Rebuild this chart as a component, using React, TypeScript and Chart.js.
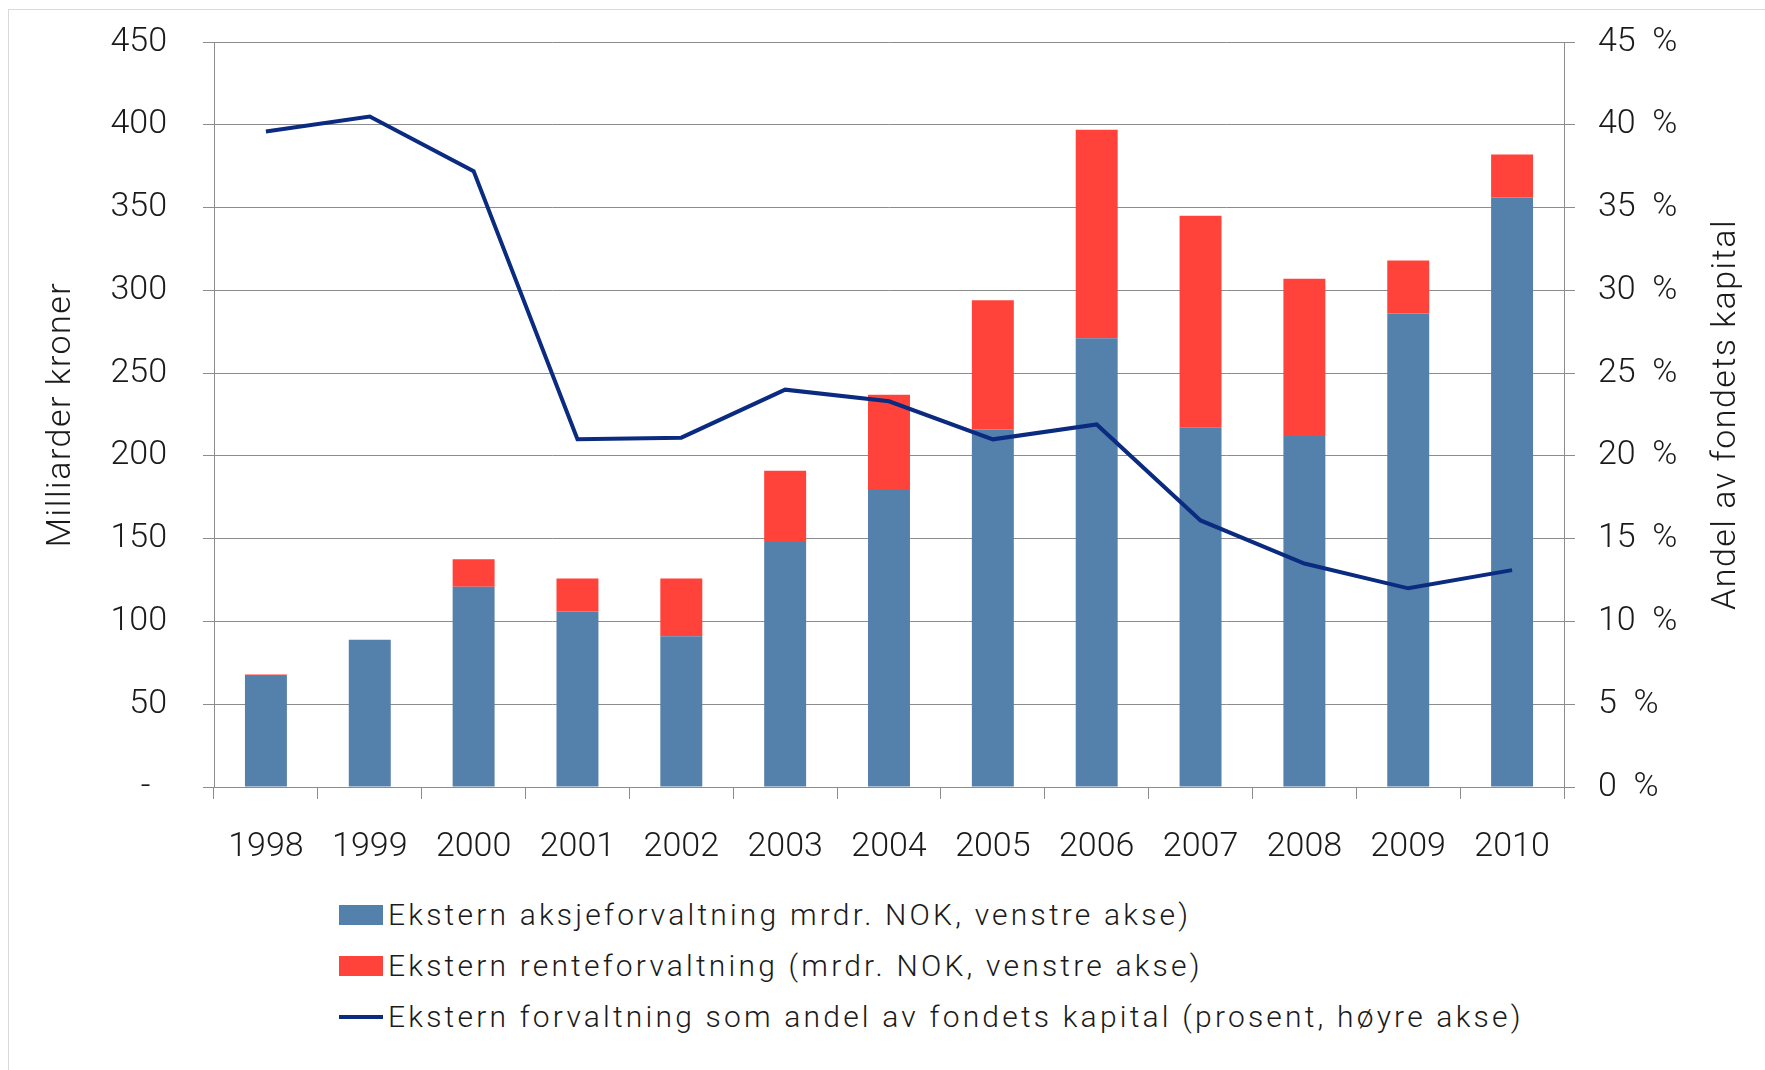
import React, { useEffect, useRef } from 'react';
import { Chart, registerables } from 'chart.js';

Chart.register(...registerables);

// ---- Data ----
const years = ['1998', '1999', '2000', '2001', '2002', '2003', '2004', '2005', '2006', '2007', '2008', '2009', '2010'];
const equityExternal = [67, 89, 121, 106, 91, 148, 180, 216, 271, 217, 212, 286, 356];
const fixedIncomeExternal = [1, 0, 16.5, 20, 35, 43, 57, 78, 126, 128, 95, 32, 26];
const shareOfFund = [39.6, 40.5, 37.2, 21.0, 21.1, 24.0, 23.3, 21.0, 21.9, 16.1, 13.5, 12.0, 13.1];
const leftAxisTicks = [0, 50, 100, 150, 200, 250, 300, 350, 400, 450];
const rightAxisTicks = [0, 5, 10, 15, 20, 25, 30, 35, 40, 45];
const legendLabels = [
  'Ekstern aksjeforvaltning mrdr. NOK, venstre akse)',
  'Ekstern renteforvaltning (mrdr. NOK, venstre akse)',
  'Ekstern forvaltning som andel av fondets kapital (prosent, høyre akse)',
];
const leftTitle = 'Milliarder kroner';
const rightTitle = 'Andel av fondets kapital';

const BLUE = '#5480AC';
const RED = '#FF433A';
const NAVY = '#0A2B80';
const GRID = '#8c8c8c';
const TEXT = '#1a1a1a';
const FONT = 'Roboto';

const W = 1765;
const H = 880;

const axisTitles = {
  id: 'axisTitles',
  afterDraw(chart: any) {
    const { ctx, chartArea, scales } = chart;
    const cy = (chartArea.top + chartArea.bottom) / 2;
    ctx.save();
    ctx.font = `300 34px ${FONT}`;
    ctx.fillStyle = TEXT;
    ctx.textAlign = 'center';
    ctx.textBaseline = 'middle';
    try { (ctx as any).letterSpacing = '1.5px'; } catch (e) {}
    ctx.save();
    ctx.translate(scales.y.left + 61, cy);
    ctx.rotate(-Math.PI / 2);
    ctx.fillText(leftTitle, 0, 0);
    ctx.restore();
    ctx.save();
    ctx.translate(scales.y1.right - 39, cy);
    ctx.rotate(-Math.PI / 2);
    ctx.fillText(rightTitle, 0, 0);
    ctx.restore();
    ctx.restore();
  },
};

export default function App() {
  const ref = useRef<HTMLCanvasElement | null>(null);

  useEffect(() => {
    if (!ref.current) return;
    const tickFont = { family: FONT, size: 34, weight: 300 as any };
    const chart = new Chart(ref.current, {
      type: 'bar',
      data: {
        labels: years,
        datasets: [
          {
            type: 'line',
            label: legendLabels[2],
            data: shareOfFund,
            yAxisID: 'y1',
            borderColor: NAVY,
            backgroundColor: NAVY,
            borderWidth: 4,
            pointRadius: 0,
            tension: 0,
            order: 0,
          } as any,
          {
            type: 'bar',
            label: legendLabels[0],
            data: equityExternal,
            backgroundColor: BLUE,
            yAxisID: 'y',
            barPercentage: 0.404,
            categoryPercentage: 1,
            order: 1,
          },
          {
            type: 'bar',
            label: legendLabels[1],
            data: fixedIncomeExternal,
            backgroundColor: RED,
            yAxisID: 'y',
            barPercentage: 0.404,
            categoryPercentage: 1,
            order: 1,
          },
        ],
      },
      options: {
        responsive: false,
        animation: false,
        devicePixelRatio: 1,
        layout: { padding: { top: 42, left: 0, right: 0, bottom: 0 } },
        plugins: {
          legend: { display: false },
          tooltip: { enabled: false },
          title: { display: false },
        },
        scales: {
          x: {
            stacked: true,
            offset: true,
            grid: {
              display: true,
              drawOnChartArea: false,
              drawTicks: true,
              tickLength: 12,
              color: GRID,
              offset: true,
            },
            border: { display: true, color: GRID },
            ticks: { font: tickFont, color: TEXT, padding: 28, maxRotation: 0, autoSkip: false },
            afterFit: (s: any) => { s.height = H - 787; },
          },
          y: {
            stacked: true,
            position: 'left',
            min: 0,
            max: 450,
            afterBuildTicks: (s: any) => { s.ticks = leftAxisTicks.map((v) => ({ value: v })); },
            grid: { color: GRID, tickLength: 11, drawTicks: true },
            border: { display: true, color: GRID },
            ticks: {
              font: tickFont,
              color: TEXT,
              padding: 36,
              callback: (v: any) => (Number(v) === 0 ? '-  ' : String(v)),
            },
            afterFit: (s: any) => {
              s.width = 214;
              s.paddingTop = 0;
              s.paddingBottom = 0;
            },
          },
          y1: {
            stacked: false,
            position: 'right',
            min: 0,
            max: 45,
            afterBuildTicks: (s: any) => { s.ticks = rightAxisTicks.map((v) => ({ value: v })); },
            grid: { drawOnChartArea: false, color: GRID, tickLength: 11, drawTicks: true },
            border: { display: true, color: GRID },
            ticks: {
              font: tickFont,
              color: TEXT,
              padding: 23,
              callback: (v: any) => `${v}  %`,
            },
            afterFit: (s: any) => {
              s.width = W - 1564;
              s.paddingTop = 0;
              s.paddingBottom = 0;
            },
          },
        },
      },
      plugins: [axisTitles],
    });
    return () => chart.destroy();
  }, []);

  const rowStyle: React.CSSProperties = {
    height: 51,
    display: 'flex',
    alignItems: 'center',
    whiteSpace: 'nowrap',
  };
  const textStyle: React.CSSProperties = {
    fontFamily: FONT,
    fontWeight: 300,
    fontSize: 30,
    lineHeight: '30px',
    letterSpacing: '3.2px',
    color: TEXT,
    marginLeft: 5,
  };

  return (
    <div style={{ position: 'absolute', left: 0, top: 0, width: W, height: 1070, background: '#fff', overflow: 'hidden' }}>
      <div
        style={{
          position: 'absolute',
          left: 8,
          top: 9,
          right: -2,
          bottom: -2,
          borderLeft: '1px solid #d9d9d9',
          borderTop: '1px solid #d9d9d9',
        }}
      />
      <canvas ref={ref} width={W} height={H} style={{ position: 'absolute', left: 0, top: 0, width: W, height: H }} />
      <div style={{ position: 'absolute', left: 339, top: 889.5 }}>
        <div style={rowStyle}>
          <span style={{ display: 'inline-block', width: 44, height: 20, background: BLUE }} />
          <span style={textStyle}>{legendLabels[0]}</span>
        </div>
        <div style={rowStyle}>
          <span style={{ display: 'inline-block', width: 44, height: 20, background: RED }} />
          <span style={textStyle}>{legendLabels[1]}</span>
        </div>
        <div style={rowStyle}>
          <span style={{ display: 'inline-block', width: 44, height: 4, background: NAVY }} />
          <span style={textStyle}>{legendLabels[2]}</span>
        </div>
      </div>
    </div>
  );
}
